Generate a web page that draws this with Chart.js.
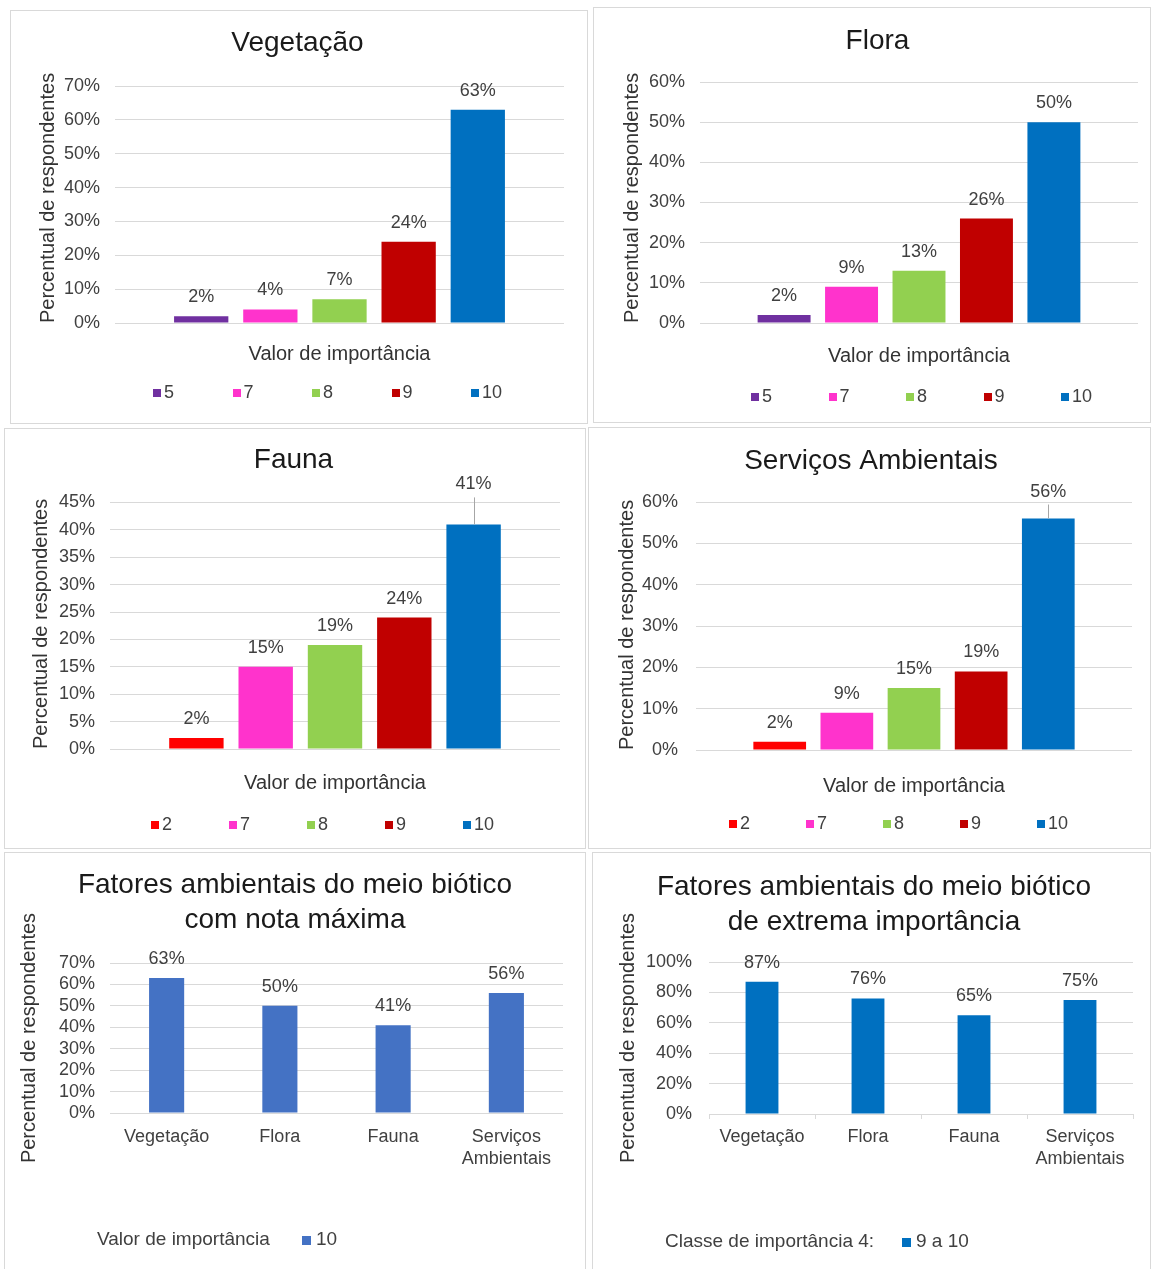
<!DOCTYPE html>
<html lang="pt-BR">
<head>
<meta charset="utf-8">
<title>Importância dos fatores ambientais do meio biótico</title>
<script src="https://cdn.jsdelivr.net/npm/chart.js@4.4.1/dist/chart.umd.min.js"></script>
<style>
  html, body { margin: 0; padding: 0; background: #ffffff; }
  body { width: 1151px; height: 1269px; position: relative; overflow: hidden; }
  .panel { position: absolute; box-sizing: border-box; border: 1px solid #d9d9d9; background: #ffffff; }
  .panel canvas { position: absolute; left: 0; top: 0; }
</style>
</head>
<body>
<div class="panel" id="p-veg"><canvas></canvas></div>
<div class="panel" id="p-flora"><canvas></canvas></div>
<div class="panel" id="p-fauna"><canvas></canvas></div>
<div class="panel" id="p-serv"><canvas></canvas></div>
<div class="panel" id="p-max"><canvas></canvas></div>
<div class="panel" id="p-ext"><canvas></canvas></div>
<script>
// ---- Dados: percentual de respondentes por valor de importância ----
const notasVegetacao = ['5', '7', '8', '9', '10'];
const pctVegetacao   = [2, 4, 7, 24, 63];

const notasFlora = ['5', '7', '8', '9', '10'];
const pctFlora   = [2, 9, 13, 26, 50];

const notasFauna = ['2', '7', '8', '9', '10'];
const pctFauna   = [2, 15, 19, 24, 41];

const notasServicos = ['2', '7', '8', '9', '10'];
const pctServicos   = [2, 9, 15, 19, 56];

// Resumo por fator do meio biótico
const fatores            = ['Vegetação', 'Flora', 'Fauna', ['Serviços', 'Ambientais']];
const pctNotaMaxima      = [63, 50, 41, 56];   // nota 10
const pctExtremaImport   = [87, 76, 65, 75];   // notas 9 a 10

// Escalas do eixo vertical (máximo, passo) em %
const eixoVegetacao = [70, 10];
const eixoFlora     = [60, 10];
const eixoFauna     = [45, 5];
const eixoServicos  = [60, 10];
const eixoMaxima    = [70, 10];
const eixoExtrema   = [100, 20];

// ---- Estilo ----
const FONT = "'Liberation Sans', Arial, Helvetica, sans-serif";
const corNota = { '2': '#ff0000', '5': '#7030a0', '7': '#ff33cc', '8': '#92d050', '9': '#c00000', '10': '#0070c0' };
const GRID = '#d9d9d9';
const TXT = '#404040';

Chart.defaults.font.family = FONT;
Chart.defaults.animation = false;

// Rótulos de valor acima das barras (com linha de chamada quando elevados)
const valueLabels = {
  id: 'valueLabels',
  afterDatasetsDraw(chart, args, o) {
    const ctx = chart.ctx;
    ctx.save();
    ctx.font = o.size + 'px ' + FONT;
    ctx.fillStyle = o.color;
    ctx.textAlign = 'center';
    ctx.textBaseline = 'middle';
    chart.data.datasets.forEach((ds, di) => {
      const meta = chart.getDatasetMeta(di);
      meta.data.forEach((bar, i) => {
        const lift = (o.raised && o.raised[di]) || o.offset;
        const y = bar.y - lift;
        ctx.fillText(ds.data[i] + '%', bar.x, y);
        if (o.raised && o.raised[di]) {
          const lx = Math.round(bar.x) + 0.5;
          ctx.strokeStyle = '#a6a6a6';
          ctx.lineWidth = 1;
          ctx.beginPath();
          ctx.moveTo(lx, y + 13);
          ctx.lineTo(lx, bar.y);
          ctx.stroke();
        }
      });
    });
    ctx.restore();
  }
};

// Legenda com quadradinhos em espaçamento fixo
const swatchLegend = {
  id: 'swatchLegend',
  afterDraw(chart, args, o) {
    if (!o || o.y === undefined) return;
    const ctx = chart.ctx;
    ctx.save();
    ctx.font = o.size + 'px ' + FONT;
    ctx.textBaseline = 'middle';
    ctx.textAlign = 'left';
    if (o.heading) {
      ctx.fillStyle = o.color;
      ctx.fillText(o.heading, o.headingX, o.y);
    }
    let x = o.x;
    chart.data.datasets.forEach(ds => {
      ctx.fillStyle = ds.backgroundColor;
      ctx.fillRect(Math.round(x), Math.round(o.y - o.box / 2), o.box, o.box);
      ctx.fillStyle = o.color;
      ctx.fillText(ds.label, x + o.box + o.gap, o.y);
      x += o.step;
    });
    ctx.restore();
  }
};

function notaDatasets(notas, valores) {
  return notas.map((n, i) => ({ label: n, data: [valores[i]], backgroundColor: corNota[n] }));
}

function drawPanel(p) {
  const [x0, y0, x1, y1] = p.box;
  const ox = x0 + 1, oy = y0 + 1;
  const W = x1 - x0 - 1, H = y1 - y0 - 1;
  const wrap = document.getElementById(p.id);
  Object.assign(wrap.style, { left: x0 + 'px', top: y0 + 'px', width: (x1 - x0 + 1) + 'px', height: (y1 - y0 + 1) + 'px' });
  const canvas = wrap.querySelector('canvas');
  canvas.width = W; canvas.height = H;
  canvas.style.width = W + 'px'; canvas.style.height = H + 'px';

  const L = p.plot[0] - ox, T = p.plot[1] - oy, R = p.plot[2] - ox, B = p.plot[3] - oy;
  const tx = p.titleX - ox, ty = p.titleY - oy;
  const padLeft = Math.max(0, 2 * tx - R);
  const nLines = Array.isArray(p.title) ? p.title.length : 1;
  const tTop = ty - p.titleLine / 2;
  const yw = L - padLeft;
  const catTick = p.catTicks ? 5 : 0;

  const lg = Object.assign({ size: 18, color: TXT, box: 8, gap: 3, step: 0 }, p.legend);
  lg.y = lg.y - oy;
  lg.x = lg.x - ox;
  if (lg.headingX !== undefined) lg.headingX -= ox;

  new Chart(canvas, {
    type: 'bar',
    data: { labels: p.labels, datasets: p.datasets },
    options: {
      responsive: false,
      animation: false,
      events: [],
      layout: { padding: { left: padLeft, right: W - R, top: 0, bottom: 0 } },
      datasets: { bar: { categoryPercentage: p.catPct, barPercentage: p.barPct } },
      plugins: {
        legend: { display: false },
        tooltip: { enabled: false },
        title: {
          display: true, text: p.title, color: '#1a1a1a',
          font: { size: 28, weight: 'normal', lineHeight: p.titleLine / 28 },
          padding: { top: tTop, bottom: T - tTop - nLines * p.titleLine }
        },
        valueLabels: { size: 18, color: TXT, offset: 19, raised: p.raised || null },
        swatchLegend: lg
      },
      scales: {
        x: {
          ticks: {
            display: !!p.showCats, color: TXT, font: { size: 18 },
            padding: p.showCats ? (p.catLabelY - p.plot[3] - catTick - 10.8) : 0,
            maxRotation: 0, autoSkip: false
          },
          grid: p.catTicks
            ? { display: true, drawOnChartArea: false, drawTicks: true, tickLength: 5, color: GRID, offset: true }
            : { display: false, drawTicks: false },
          border: { display: !!p.catTicks, color: GRID },
          title: p.xTitleY
            ? { display: true, text: 'Valor de importância', color: '#333333', font: { size: 20 },
                padding: { top: 0, bottom: H - (p.xTitleY - oy) - 12 } }
            : { display: false },
          afterFit: s => { s.height = H - B; }
        },
        y: {
          min: 0, max: p.axis[0],
          ticks: { stepSize: p.axis[1], autoSkip: false, padding: L - (p.tickRight - ox), color: TXT,
                   font: { size: 18 }, callback: v => v + '%' },
          grid: { color: GRID, lineWidth: 1, drawTicks: false },
          border: { display: false },
          title: { display: true, text: 'Percentual de respondentes', color: '#333333', font: { size: 20 },
                   align: p.yTitleAlign || 'center',
                   padding: { top: p.yTitleX - ox - padLeft - 12, bottom: 0 } },
          afterFit: s => { s.width = yw; }
        }
      }
    },
    plugins: [valueLabels, swatchLegend]
  });
}

const CAT = 0.77, BAR = 0.785;

drawPanel({
  id: 'p-veg', box: [10, 10, 587, 423], plot: [115, 86, 564, 323],
  title: 'Vegetação', titleX: 297.5, titleY: 43.5, titleLine: 33.6,
  yTitleX: 48, yTitleAlign: 'start', tickRight: 100, xTitleY: 354,
  axis: eixoVegetacao, labels: [''], datasets: notaDatasets(notasVegetacao, pctVegetacao),
  catPct: CAT, barPct: BAR,
  legend: { x: 153, y: 393, step: 79.5 }
});

drawPanel({
  id: 'p-flora', box: [593, 7, 1150, 422], plot: [700, 82, 1138, 323],
  title: 'Flora', titleX: 877.5, titleY: 41, titleLine: 33.6,
  yTitleX: 632, yTitleAlign: 'start', tickRight: 685, xTitleY: 356,
  axis: eixoFlora, labels: [''], datasets: notaDatasets(notasFlora, pctFlora),
  catPct: CAT, barPct: BAR,
  legend: { x: 751, y: 397, step: 77.5 }
});

drawPanel({
  id: 'p-fauna', box: [4, 428, 585, 848], plot: [110, 502.5, 560, 749],
  title: 'Fauna', titleX: 293.5, titleY: 460, titleLine: 33.6,
  yTitleX: 41, yTitleAlign: 'start', tickRight: 95, xTitleY: 783,
  axis: eixoFauna, labels: [''], datasets: notaDatasets(notasFauna, pctFauna),
  catPct: CAT, barPct: BAR, raised: { 4: 40 },
  legend: { x: 151, y: 825, step: 78 }
});

drawPanel({
  id: 'p-serv', box: [588, 427, 1150, 848], plot: [696, 502, 1132, 750],
  title: 'Serviços Ambientais', titleX: 871, titleY: 461, titleLine: 33.6,
  yTitleX: 627, yTitleAlign: 'start', tickRight: 678, xTitleY: 786,
  axis: eixoServicos, labels: [''], datasets: notaDatasets(notasServicos, pctServicos),
  catPct: CAT, barPct: BAR, raised: { 4: 27 },
  legend: { x: 729, y: 824, step: 77 }
});

drawPanel({
  id: 'p-max', box: [4, 852, 585, 1269], plot: [110, 963, 563, 1113],
  title: ['Fatores ambientais do meio biótico', 'com nota máxima'], titleX: 295, titleY: 885, titleLine: 35.5,
  yTitleX: 29, tickRight: 95,
  showCats: true, catLabelY: 1137,
  axis: eixoMaxima, labels: fatores,
  datasets: [{ label: '10', data: pctNotaMaxima, backgroundColor: '#4472c4' }],
  catPct: 1, barPct: 0.31,
  legend: { heading: 'Valor de importância', headingX: 97, x: 302, y: 1240, size: 19, box: 9, gap: 5 }
});

drawPanel({
  id: 'p-ext', box: [592, 852, 1150, 1269], plot: [709, 962, 1133, 1114],
  title: ['Fatores ambientais do meio biótico', 'de extrema importância'], titleX: 874, titleY: 887.5, titleLine: 35,
  yTitleX: 628, tickRight: 692,
  showCats: true, catTicks: true, catLabelY: 1137,
  axis: eixoExtrema, labels: fatores,
  datasets: [{ label: '9 a 10', data: pctExtremaImport, backgroundColor: '#0070c0' }],
  catPct: 1, barPct: 0.31,
  legend: { heading: 'Classe de importância 4:', headingX: 665, x: 902, y: 1242, size: 19, box: 9, gap: 5 }
});
</script>
</body>
</html>
